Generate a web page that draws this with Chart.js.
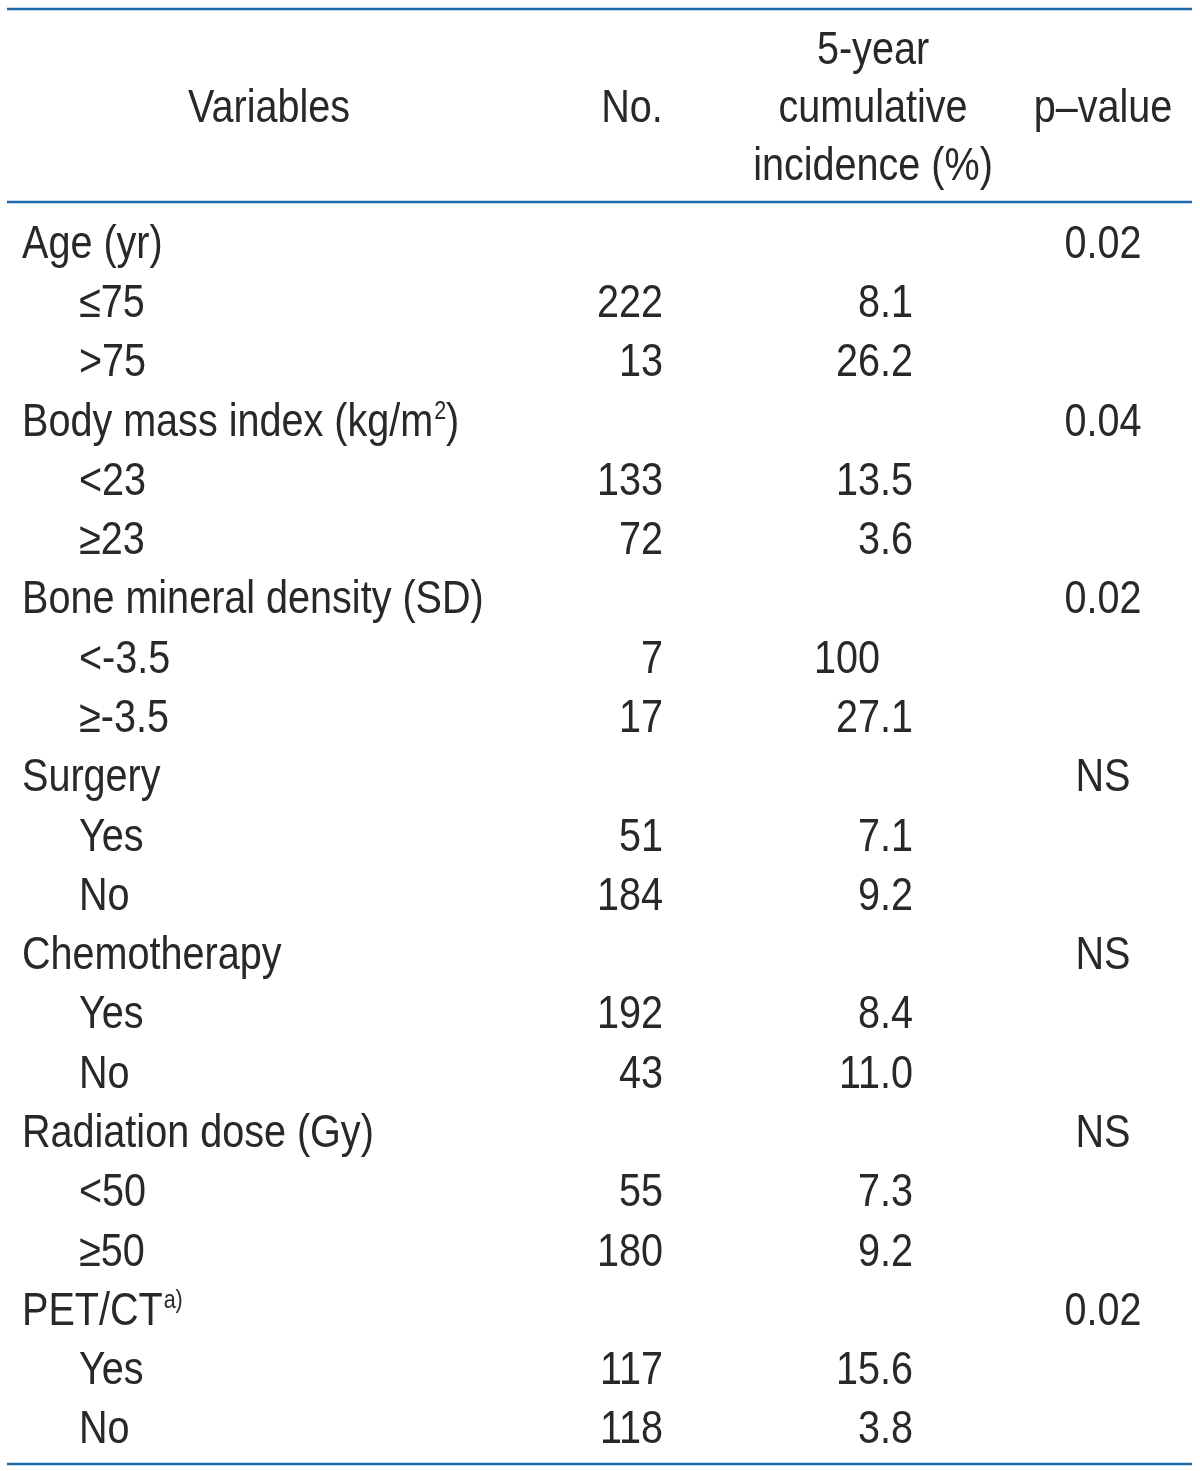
<!DOCTYPE html>
<html>
<head>
<meta charset="utf-8">
<script src="https://cdn.jsdelivr.net/npm/chart.js@4.4.1/dist/chart.umd.min.js"></script>
<style>
  html, body { margin: 0; padding: 0; background: #fff; }
  #wrap { width: 1200px; height: 1471px; position: relative; }
</style>
</head>
<body>
<div id="wrap"><canvas id="tbl"></canvas></div>
<script>
// ===== TABLE DATA =====
const headers      = ['Variables', 'No.', ['5-year', 'cumulative', 'incidence (%)'], 'p–value'];
// {..} marks superscript text
const groupLabels  = ['Age (yr)', 'Body mass index (kg/m{2})', 'Bone mineral density (SD)', 'Surgery',
                      'Chemotherapy', 'Radiation dose (Gy)', 'PET/CT{a)}'];
const groupPValues = ['0.02', '0.04', '0.02', 'NS', 'NS', 'NS', '0.02'];
const subLabels    = [['≤75', '>75'], ['<23', '≥23'], ['<-3.5', '≥-3.5'], ['Yes', 'No'],
                      ['Yes', 'No'], ['<50', '≥50'], ['Yes', 'No']];
const subCounts    = [[222, 13], [133, 72], [7, 17], [51, 184], [192, 43], [55, 180], [117, 118]];
const subIncidence = [['8.1', '26.2'], ['13.5', '3.6'], ['100', '27.1'], ['7.1', '9.2'],
                      ['8.4', '11.0'], ['7.3', '9.2'], ['15.6', '3.8']];

// ===== LAYOUT / STYLE =====
const FONT   = "'Liberation Sans', Arial, sans-serif";
const FSIZE  = 46;
const SX     = 0.86;   // horizontal squeeze, the original face is condensed
const TEXT   = '#2a2728';
const RULE   = '#1d69ad';
const COL    = { group: 22, sub: 79, no: 663, inc: 880, p: 1103, head: [269, 632, 873, 1103] };
const RULE_X = [7, 1192];

// flatten into rows
const rows = [];
groupLabels.forEach((g, gi) => {
  rows.push({ kind: 'group', label: g, p: groupPValues[gi] });
  subLabels[gi].forEach((s, si) => {
    rows.push({ kind: 'sub', label: s, no: subCounts[gi][si], inc: subIncidence[gi][si] });
  });
});
const rowKeys = rows.map((r, i) => 'row' + i);

const cellSet = (name, align, pick, xOf) => {
  const pts = [], cells = [];
  rows.forEach((r, i) => {
    const v = pick(r);
    if (v == null) return;
    pts.push({ x: xOf(r), y: rowKeys[i] });
    cells.push(String(v));
  });
  return { label: name, data: pts, cells, align, pointRadius: 0, pointHoverRadius: 0 };
};

const datasets = [
  cellSet('Variables', 'left',    r => r.label, r => r.kind === 'group' ? COL.group : COL.sub),
  cellSet('No.',       'right',   r => r.no,    () => COL.no),
  cellSet('Incidence', 'decimal', r => r.inc,   () => COL.inc),
  cellSet('p-value',   'center',  r => r.p,     () => COL.p),
];

function font(size) { return `${size}px ${FONT}`; }

function drawStr(ctx, s, x, y, align) {
  ctx.save();
  ctx.translate(x, y);
  ctx.scale(SX, 1);
  ctx.textAlign = align;
  ctx.fillText(s, 0, 0);
  ctx.restore();
}
const widthOf = (ctx, s) => ctx.measureText(s).width * SX;

// text with {superscript} parts, left aligned
function richText(ctx, s, x, y) {
  const parts = s.split(/\{([^}]*)\}/);
  let cx = x;
  parts.forEach((p, k) => {
    if (!p) return;
    if (k % 2 === 1) {
      ctx.font = font(Math.round(FSIZE * 0.55));
      drawStr(ctx, p, cx + 1, y - FSIZE * 0.36, 'left');
      cx += widthOf(ctx, p) + 1;
      ctx.font = font(FSIZE);
    } else {
      drawStr(ctx, p, cx, y, 'left');
      cx += widthOf(ctx, p);
    }
  });
}

const tablePlugin = {
  id: 'tableText',
  afterDatasetsDraw(chart) {
    const { ctx, chartArea, scales } = chart;
    ctx.save();
    ctx.fillStyle = TEXT;
    ctx.font = font(FSIZE);
    ctx.textBaseline = 'alphabetic';
    const base = 16; // row centre -> baseline

    chart.data.datasets.forEach((ds, d) => {
      const meta = chart.getDatasetMeta(d);
      meta.data.forEach((pt, j) => {
        const s = ds.cells[j];
        const y = pt.y + base;
        if (ds.align === 'left') {
          richText(ctx, s, pt.x, y);
        } else if (ds.align === 'decimal') {
          const k = s.indexOf('.');
          drawStr(ctx, k < 0 ? s : s.slice(0, k), pt.x, y, 'right');
          if (k >= 0) drawStr(ctx, s.slice(k), pt.x, y, 'left');
        } else {
          drawStr(ctx, s, pt.x, y, ds.align);
        }
      });
    });

    // header
    const top = chartArea.top;
    const midBase = top - 90, lineGap = 58;
    headers.forEach((h, i) => {
      const x = scales.x.getPixelForValue(COL.head[i]);
      if (Array.isArray(h)) {
        h.forEach((t, k) => drawStr(ctx, t, x, midBase + (k - (h.length - 1) / 2) * lineGap, 'center'));
      } else {
        drawStr(ctx, h, x, midBase, 'center');
      }
    });

    // rules
    ctx.strokeStyle = RULE;
    ctx.lineWidth = 2.5;
    const x0 = scales.x.getPixelForValue(RULE_X[0]), x1 = scales.x.getPixelForValue(RULE_X[1]);
    [top - 203, top - 10, chartArea.bottom + 7].forEach(yy => {
      ctx.beginPath();
      ctx.moveTo(x0, yy);
      ctx.lineTo(x1, yy);
      ctx.stroke();
    });
    ctx.restore();
  }
};

new Chart(document.getElementById('tbl'), {
  type: 'scatter',
  data: { datasets },
  options: {
    responsive: true,
    maintainAspectRatio: false,
    animation: false,
    events: [],
    layout: { padding: { top: 212, bottom: 14, left: 0, right: 0 } },
    plugins: { legend: { display: false }, tooltip: { enabled: false } },
    scales: {
      x: { type: 'linear', min: 0, max: 1200, display: false },
      y: { type: 'category', labels: rowKeys, offset: true, display: false },
    },
  },
  plugins: [tablePlugin],
});
</script>
</body>
</html>
